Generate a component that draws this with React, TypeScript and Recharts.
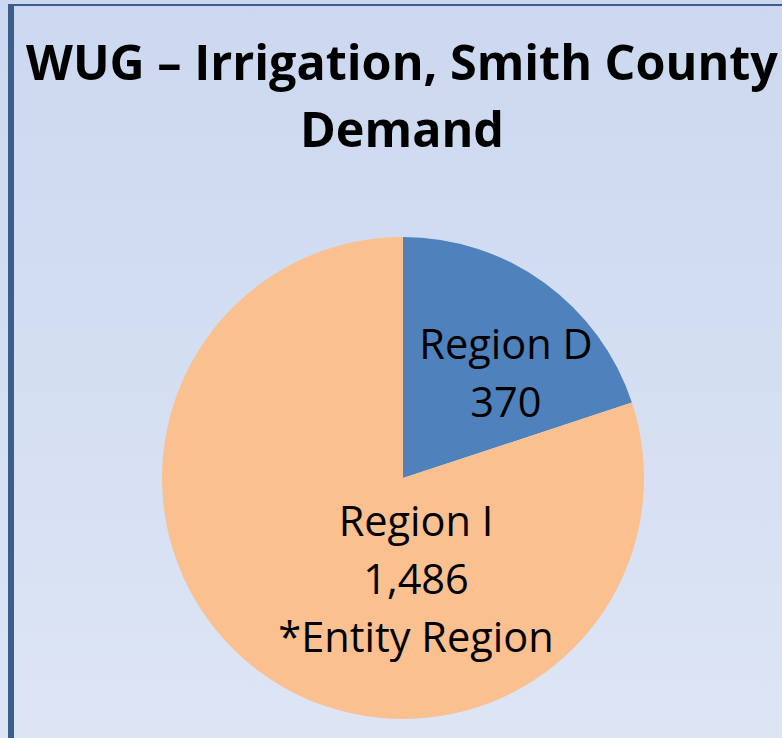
import React from 'react';
import { PieChart, Pie, Cell } from 'recharts';

const categories = ['Region D', 'Region I'];
const values = [370, 1486];
const valueLabels = ['370', '1,486'];
const notes = ['', '*Entity Region'];
const colors = ['#4f81bd', '#fac090'];
const titleLines = ['WUG \u2013 Irrigation, Smith County', 'Demand'];

const data = categories.map((name, i) => ({ name, value: values[i], label: valueLabels[i], note: notes[i] }));

const FONT = '"Open Sans", "Noto Sans", sans-serif';

// label block centres expressed as fractions of the radius
const labelOffsets = [
  { dx: 0.427, dy: -0.44 },
  { dx: 0.054, dy: 0.415 },
];

const renderLabel = (props: any) => {
  const { cx, cy, outerRadius, index } = props;
  const d = data[index];
  const off = labelOffsets[index];
  const x = cx + off.dx * outerRadius;
  const lines = [d.name, d.label];
  if (d.note) lines.push(d.note);
  const lh = 58;
  const yc = cy + off.dy * outerRadius;
  const y0 = yc - ((lines.length - 1) * lh) / 2;
  return (
    <text x={x} y={y0} textAnchor="middle" dominantBaseline="central" fill="#000" fontFamily={FONT} fontSize={41.5}>
      {lines.map((t, i) => (
        <tspan key={i} x={x} y={y0 + i * lh}>{t}</tspan>
      ))}
    </text>
  );
};

export default function App() {
  return (
    <div style={{ position: 'absolute', left: 0, top: 0, width: 782, height: 738, overflow: 'hidden',
      background: 'linear-gradient(to bottom, #cbd8ef 0%, #dde5f5 100%)' }}>
      <div style={{ position: 'absolute', left: 8, top: 4, width: 774, height: 2, background: '#3b5e8c' }} />
      <div style={{ position: 'absolute', left: 8, top: 4, width: 6, height: 734, background: '#3b5e8c' }} />
      <div style={{ position: 'absolute', left: 0, top: 0 }}>
        <PieChart width={782} height={738} margin={{ top: 0, right: 0, bottom: 0, left: 0 }}>
          <Pie
            data={data}
            dataKey="value"
            nameKey="name"
            cx={403}
            cy={478}
            outerRadius={241}
            startAngle={90}
            endAngle={-270}
            stroke="none"
            label={renderLabel}
            labelLine={false}
            isAnimationActive={false}
          >
            {data.map((d, i) => (
              <Cell key={d.name} fill={colors[i]} />
            ))}
          </Pie>
        </PieChart>
      </div>
      <svg style={{ position: 'absolute', left: 0, top: 0 }} width={782} height={200}>
        <text x={402} y={80} textAnchor="middle" fontFamily={FONT} fontWeight="bold" fontSize={48.5} fill="#000">{titleLines[0]}</text>
        <text x={402} y={147} textAnchor="middle" fontFamily={FONT} fontWeight="bold" fontSize={48.5} fill="#000">{titleLines[1]}</text>
      </svg>
    </div>
  );
}
